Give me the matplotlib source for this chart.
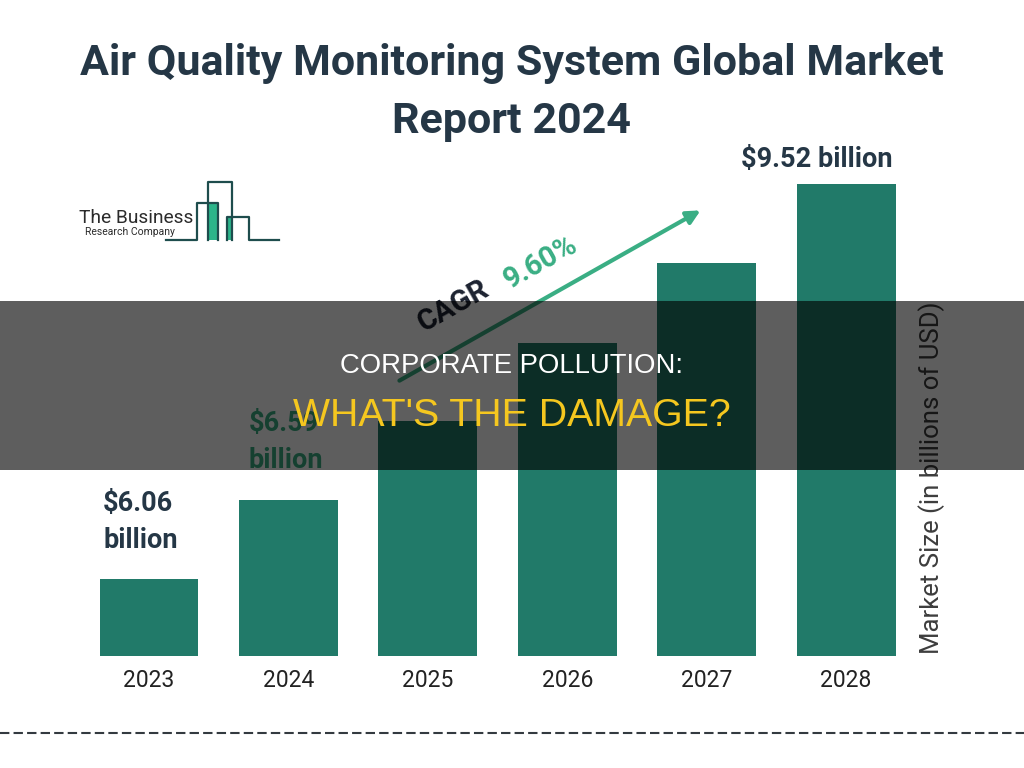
import matplotlib
matplotlib.use('Agg')
import matplotlib.pyplot as plt
from matplotlib.patches import Rectangle, FancyArrowPatch
from matplotlib.lines import Line2D

# chart data
years = ['2023', '2024', '2025', '2026', '2027', '2028']
market_size = [6.06, 6.75, 7.44, 8.13, 8.83, 9.52]   # bar heights as drawn
value_labels = ['$6.06\nbillion', '$6.59\nbillion', '', '', '', '$9.52 billion']
cagr_label = '9.60%'

W, H = 1024, 768
bar_color = '#217a69'
green = '#3aae84'
navy = '#253746'

plt.rcParams['font.family'] = ['Roboto', 'DejaVu Sans']

fig = plt.figure(figsize=(W / 100, H / 100), dpi=100)


def fx(x):
    return x / W


def fy(y):
    return 1 - y / H


# axes placed so the bars sit where they are in the reference
ax = fig.add_axes([fx(80), fy(656), fx(916) - fx(80), fy(150) - fy(656)])
x = list(range(len(years)))
ax.bar(x, market_size, width=0.71, color=bar_color, zorder=2)
ax.set_xlim(-0.495, 5.502)
ax.set_ylim(5.386, 9.817)
ax.set_xticks(x, years, fontsize=16.5, color='#222222')
ax.tick_params(axis='x', length=0, pad=9.5)
ax.set_yticks([])
for s in ax.spines.values():
    s.set_visible(False)

# value labels
ax.annotate(value_labels[0], xy=(x[0], market_size[0]), xytext=(-46, 25),
            textcoords='offset pixels', ha='left', va='bottom', fontsize=19.5,
            fontweight='bold', color=navy, linespacing=1.5)
ax.annotate(value_labels[1], xy=(x[1], market_size[1]), xytext=(-40, 26),
            textcoords='offset pixels', ha='left', va='bottom', fontsize=19.5,
            fontweight='bold', color=green, linespacing=1.5)
ax.annotate(value_labels[5], xy=(x[5], market_size[5]), xytext=(-29, 11),
            textcoords='offset pixels', ha='center', va='bottom', fontsize=19.5,
            fontweight='bold', color=navy)

# title
fig.text(0.5, fy(75), 'Air Quality Monitoring System Global Market', ha='center',
         va='baseline', fontsize=31, fontweight='bold', color=navy)
fig.text(0.5, fy(133), 'Report 2024', ha='center', va='baseline', fontsize=31,
         fontweight='bold', color=navy)

# y label on the right
fig.text(fx(932), fy(478), 'Market Size (in billions of USD)', rotation=90,
         ha='center', va='center', fontsize=18.5, color='#3d3d3d')

# CAGR arrow and text
arrow = FancyArrowPatch((fx(397), fy(382)), (fx(703), fy(209)),
                        transform=fig.transFigure, arrowstyle='-|>',
                        mutation_scale=20, lw=3, color=green)
fig.add_artist(arrow)
fig.text(fx(453), fy(306), 'CAGR', rotation=29.4, rotation_mode='anchor',
         ha='center', va='center', fontsize=21, fontweight='bold', color='#1c2230')
fig.text(fx(541), fy(262), cagr_label, rotation=29.4, rotation_mode='anchor',
         ha='center', va='center', fontsize=21, fontweight='bold', color=green)

# logo
logo_dark = '#1e4d4d'
fig.patches.append(Rectangle((fx(208), fy(240)), fx(218) - fx(208), fy(203) - fy(240),
                             transform=fig.transFigure, color='#2cb58a', lw=0, zorder=2))
fig.patches.append(Rectangle((fx(227), fy(240)), fx(232) - fx(227), fy(217) - fy(240),
                             transform=fig.transFigure, color='#2cb58a', lw=0, zorder=2))
logo_paths = [
    [(166, 240), (197, 240), (197, 203), (218, 203), (218, 240)],
    [(208, 240), (208, 182), (232, 182), (232, 240)],
    [(227, 240), (227, 217), (249, 217), (249, 240), (279, 240)],
]
for path in logo_paths:
    fig.add_artist(Line2D([fx(p[0]) for p in path], [fy(p[1]) for p in path],
                          transform=fig.transFigure, color=logo_dark, lw=1.6, zorder=3))
fig.text(fx(79), fy(223), 'The Business', ha='left', va='baseline', fontsize=13.8,
         color='#2b2b2b')
fig.text(fx(85), fy(235), 'Research Company', ha='left', va='baseline', fontsize=7.5,
         color='#2b2b2b')

# dashed footer line
fig.add_artist(Line2D([0, 1], [fy(733), fy(733)], transform=fig.transFigure,
                      color='#333a40', lw=1.5, linestyle=(0, (4.5, 2.0))))

# dark overlay band with headline
fig.patches.append(Rectangle((0, fy(470)), 1, fy(301) - fy(470), transform=fig.transFigure,
                             facecolor='black', edgecolor='none', lw=0, alpha=0.63,
                             zorder=10))
fig.text(0.5, fy(373), 'CORPORATE POLLUTION:', ha='center', va='baseline', fontsize=19.8,
         color='white', family=['Liberation Sans', 'DejaVu Sans'], zorder=11)
fig.text(0.5, fy(426), "WHAT'S THE DAMAGE?", ha='center', va='baseline', fontsize=28.3,
         color='#f5c71f', family=['Liberation Sans', 'DejaVu Sans'], zorder=11)

fig.savefig('out.png', dpi=100)
